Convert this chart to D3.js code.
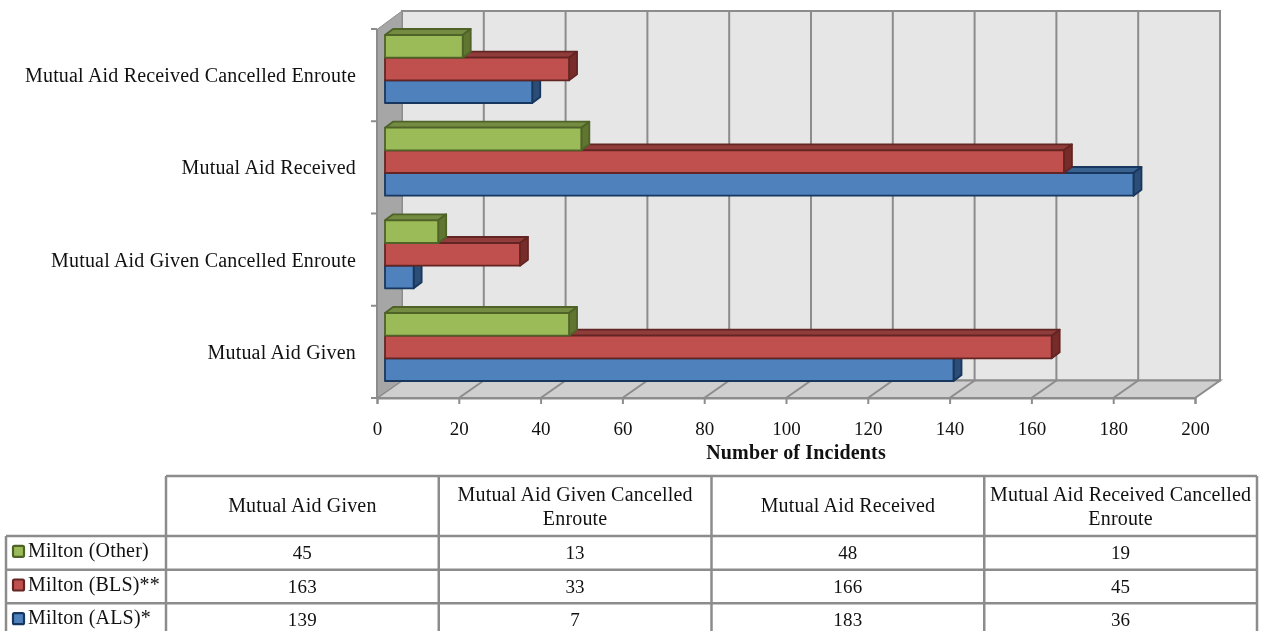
<!DOCTYPE html>
<html>
<head>
<meta charset="utf-8">
<script src="https://cdn.jsdelivr.net/npm/d3@7"></script>
<style>
html, body { margin: 0; padding: 0; background: #fff; overflow: hidden; }
svg { display: block; filter: blur(0.35px); }
text { font-family: "Liberation Serif", serif; font-size: 20px; letter-spacing: 0.18px; fill: #111; }
</style>
</head>
<body>
<div id="chart"></div>
<script>
var categories = ["Mutual Aid Given", "Mutual Aid Given Cancelled Enroute", "Mutual Aid Received", "Mutual Aid Received Cancelled Enroute"];
var headerLines = [["Mutual Aid Given"], ["Mutual Aid Given Cancelled", "Enroute"], ["Mutual Aid Received"], ["Mutual Aid Received Cancelled", "Enroute"]];
var seriesNames = ["Milton (ALS)*", "Milton (BLS)**", "Milton (Other)"];
var alsValues = [139, 7, 183, 36];
var blsValues = [163, 33, 166, 45];
var otherValues = [45, 13, 48, 19];
var xTicks = [0, 20, 40, 60, 80, 100, 120, 140, 160, 180, 200];
var xTitle = "Number of Incidents";

var seriesValues = [alsValues, blsValues, otherValues];
var faceColors = [
    {front: "#4f81bd", top: "#3a6291", side: "#2c4d75", line: "#17375e"},
    {front: "#c0504d", top: "#8f3c3a", side: "#772c2a", line: "#632523"},
    {front: "#9bbb59", top: "#738c42", side: "#5f7530", line: "#4f6228"}
];
var gridColor = "#8c8c8c";

var svg = d3.select("#chart").append("svg").attr("width", 1262).attr("height", 631);

var x = d3.scaleLinear().domain([0, 200]).range([377, 1195]);
var yTicks = d3.scaleBand().domain(categories).range([398, 29]);
var yGroup = d3.scaleBand().domain(categories).range([381, 35]).paddingInner(0.266);
var ySeries = d3.scaleBand().domain(seriesNames).range([yGroup.bandwidth(), 0]);

var wallDx = 25, wallDy = 17.5, wallTop = 11, floorY = 398;
var barDx = 8, barDy = 6, barStart = 8;

function pts(a) { return a.map(function(p) { return p.join(","); }).join(" "); }

// walls
var walls = svg.append("g");
walls.append("polygon")
    .attr("points", pts([[x(0) + wallDx, wallTop], [x(200) + wallDx, wallTop], [x(200) + wallDx, floorY - wallDy], [x(0) + wallDx, floorY - wallDy]]))
    .attr("fill", "#e6e6e6").attr("stroke", gridColor).attr("stroke-width", 2);
walls.append("polygon")
    .attr("points", pts([[x(0), floorY], [x(0) + wallDx, floorY - wallDy], [x(200) + wallDx, floorY - wallDy], [x(200), floorY]]))
    .attr("fill", "#cfcfcf").attr("stroke", gridColor).attr("stroke-width", 2);
walls.append("polygon")
    .attr("points", pts([[x(0), wallTop + wallDy + 1], [x(0) + wallDx, wallTop], [x(0) + wallDx, floorY - wallDy], [x(0), floorY]]))
    .attr("fill", "#a6a6a6").attr("stroke", gridColor).attr("stroke-width", 1);

// gridlines up the back wall and across the floor
xTicks.slice(1, -1).forEach(function(t) {
    walls.append("polyline")
        .attr("points", pts([[x(t), floorY], [x(t) + wallDx, floorY - wallDy], [x(t) + wallDx, wallTop]]))
        .attr("fill", "none").attr("stroke", gridColor).attr("stroke-width", 2);
});

// axes
var xAxis = svg.append("g").attr("transform", "translate(0," + floorY + ")")
    .call(d3.axisBottom(x).tickValues(xTicks).tickSize(6).tickPadding(18).tickFormat(d3.format("d")));
xAxis.select(".domain").attr("stroke", gridColor).attr("stroke-width", 2);
xAxis.selectAll("line").attr("stroke", gridColor).attr("stroke-width", 2);
xAxis.selectAll("text").style("font-family", '"Liberation Serif", serif').style("font-size", "19px").style("letter-spacing", "0").attr("fill", "#111");

var yAxis = svg.append("g").attr("transform", "translate(" + x(0) + ",0)");
yAxis.append("line").attr("y1", yTicks.range()[1]).attr("y2", floorY).attr("stroke", gridColor).attr("stroke-width", 2);
[0, 1, 2, 3, 4].forEach(function(i) {
    var ty = floorY - i * yTicks.step();
    yAxis.append("line").attr("x1", -6).attr("x2", 0).attr("y1", ty).attr("y2", ty)
        .attr("stroke", gridColor).attr("stroke-width", 2);
});

svg.selectAll(".cat-label").data(categories).enter().append("text")
    .attr("class", "cat-label")
    .attr("x", 356)
    .attr("y", function(d) { return yTicks(d) + yTicks.bandwidth() / 2 + 7; })
    .attr("text-anchor", "end")
    .text(function(d) { return d; });

// bars
categories.forEach(function(cat, c) {
    seriesNames.forEach(function(name, s) {
        var col = faceColors[s];
        var left = x(0) + barStart;
        var right = left + (x(seriesValues[s][c]) - x(0));
        var top = yGroup(cat) + ySeries(name);
        var bottom = top + ySeries.bandwidth();
        var g = svg.append("g").attr("stroke", col.line).attr("stroke-width", 1.8).attr("stroke-linejoin", "round");
        g.append("polygon")
            .attr("points", pts([[left, top], [left + barDx, top - barDy], [right + barDx, top - barDy], [right, top]]))
            .attr("fill", col.top);
        g.append("polygon")
            .attr("points", pts([[right, top], [right + barDx, top - barDy], [right + barDx, bottom - barDy], [right, bottom]]))
            .attr("fill", col.side);
        g.append("rect")
            .attr("x", left).attr("y", top)
            .attr("width", right - left).attr("height", bottom - top)
            .attr("fill", col.front);
    });
});

svg.append("text")
    .attr("x", 796).attr("y", 459)
    .attr("text-anchor", "middle")
    .attr("font-weight", "bold")
    .text(xTitle);

// data table
var colX = d3.scaleBand().domain(categories).range([166, 1257]);
var rowNames = seriesNames.slice().reverse();
var rowY = d3.scaleBand().domain(rowNames).range([536, 637]);
var table = svg.append("g");

function tableLine(x1, y1, x2, y2) {
    table.append("line").attr("x1", x1).attr("y1", y1).attr("x2", x2).attr("y2", y2)
        .attr("stroke", gridColor).attr("stroke-width", 2.5);
}

tableLine(166, 476, 1257, 476);
tableLine(6, 536, 1257, 536);
rowNames.forEach(function(name) { tableLine(6, rowY(name) + rowY.bandwidth(), 1257, rowY(name) + rowY.bandwidth()); });
tableLine(6, 536, 6, 637);
tableLine(166, 476, 166, 637);
categories.forEach(function(cat) { tableLine(colX(cat) + colX.bandwidth(), 476, colX(cat) + colX.bandwidth(), 637); });

categories.forEach(function(cat, c) {
    var cx = colX(cat) + colX.bandwidth() / 2;
    var lines = headerLines[c];
    lines.forEach(function(t, i) {
        table.append("text")
            .attr("x", cx)
            .attr("y", (lines.length === 1 ? 512 : 501 + i * 24))
            .attr("text-anchor", "middle")
            .text(t);
    });
    rowNames.forEach(function(name) {
        var s = seriesNames.indexOf(name);
        table.append("text")
            .attr("x", cx)
            .attr("y", rowY(name) + 23)
            .attr("text-anchor", "middle")
            .style("font-size", "19px")
            .text(seriesValues[s][c]);
    });
});

rowNames.forEach(function(name) {
    var s = seriesNames.indexOf(name);
    var cy = rowY(name) + rowY.bandwidth() / 2;
    table.append("rect")
        .attr("x", 13).attr("y", cy - 7)
        .attr("width", 11).attr("height", 11).attr("rx", 1.5)
        .attr("fill", faceColors[s].front)
        .attr("stroke", faceColors[s].line).attr("stroke-width", 2.2);
    table.append("text")
        .attr("x", 28).attr("y", rowY(name) + 21)
        .text(name);
});
</script>
</body>
</html>
